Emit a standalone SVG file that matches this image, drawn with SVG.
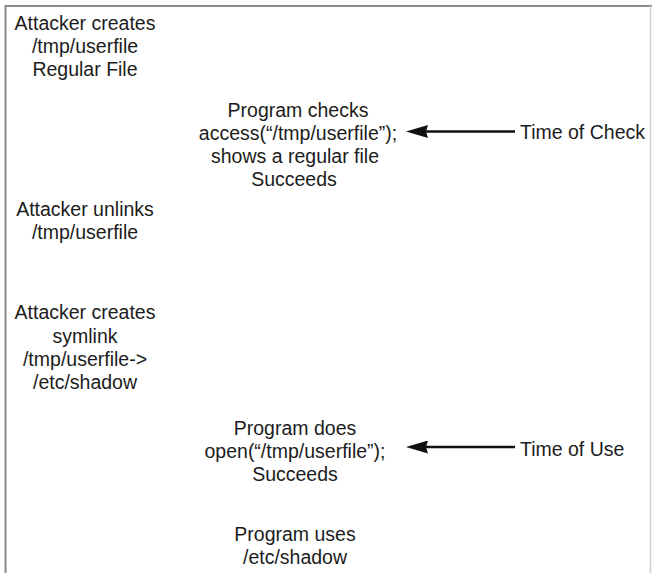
<svg xmlns="http://www.w3.org/2000/svg" width="652" height="573" viewBox="0 0 652 573">
<defs>
<style>
text{font-family:"Liberation Sans",Arial,sans-serif;font-size:19.5px;fill:#1c1c1c;text-anchor:middle}
.lbl{text-anchor:start}
.frame{stroke:#8a8a8a;stroke-width:2;fill:none}
.conn{stroke:#111;stroke-width:2.6;fill:none}
</style>
<marker id="ah" markerUnits="userSpaceOnUse" markerWidth="22" markerHeight="13" refX="2" refY="6.5" orient="auto" viewBox="0 0 22 13">
<path d="M22,6.5 L0,0 L2,6.5 L0,13 Z" fill="#111"/>
</marker>
</defs>
<rect width="652" height="573" fill="#fff"/>
<g id="frame">
<path class="frame" d="M5.5,573 V6 H652"/>
<path d="M650.5,6 V573" stroke="#d0d0d0" stroke-width="1.5" fill="none"/>
</g>
<g id="connectors">
<path class="conn" d="M515,131.5 H426" marker-end="url(#ah)"/>
<path class="conn" d="M515,447 H426" marker-end="url(#ah)"/>
</g>
<g id="n1">
<text x="85" y="30">Attacker creates</text>
<text x="85" y="53">/tmp/userfile</text>
<text x="85" y="76">Regular File</text>
</g>
<g id="n2">
<text x="298" y="117">Program checks</text>
<text x="298" y="140">access(“/tmp/userfile”);</text>
<text x="295" y="163">shows a regular file</text>
<text x="294" y="186">Succeeds</text>
</g>
<g id="n3">
<text class="lbl" x="520" y="139">Time of Check</text>
</g>
<g id="n4">
<text x="85" y="216">Attacker unlinks</text>
<text x="85" y="239">/tmp/userfile</text>
</g>
<g id="n5">
<text x="85" y="319">Attacker creates</text>
<text x="85" y="343">symlink</text>
<text x="85" y="366">/tmp/userfile-&gt;</text>
<text x="85" y="389">/etc/shadow</text>
</g>
<g id="n6">
<text x="295" y="435">Program does</text>
<text x="295" y="458">open(“/tmp/userfile”);</text>
<text x="295" y="481">Succeeds</text>
</g>
<g id="n7">
<text class="lbl" x="520" y="456">Time of Use</text>
</g>
<g id="n8">
<text x="295" y="541">Program uses</text>
<text x="295" y="564">/etc/shadow</text>
</g>
</svg>
